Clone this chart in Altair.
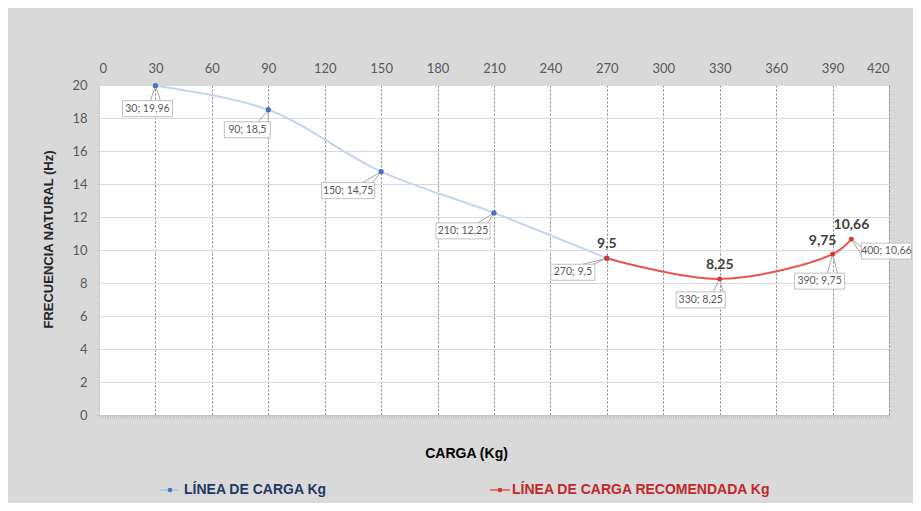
import altair as alt
import pandas as pd

# ---------------- data ----------------
carga_actual = [30, 90, 150, 210, 270]
frec_actual = [19.96, 18.5, 14.75, 12.25, 9.5]
carga_rec = [270, 330, 390, 400]
frec_rec = [9.5, 8.25, 9.75, 10.66]
x_ticks = [0, 30, 60, 90, 120, 150, 180, 210, 240, 270, 300, 330, 360, 390, 420]
y_ticks = [0, 2, 4, 6, 8, 10, 12, 14, 16, 18, 20]

serie_actual = "LÍNEA DE CARGA Kg"
serie_rec = "LÍNEA DE CARGA RECOMENDADA Kg"
x_title = "CARGA (Kg)"
y_title = "FRECUENCIA NATURAL (Hz)"

# ---------------- layout ----------------
W, H = 790, 330
X_MAX, Y_MAX = 420, 20
PXX = W / X_MAX
PXY = H / Y_MAX

# callout boxes: pixel offset of the box centre from its point, box width
callout_dx = [-8, -21, -33, -31, -34, -19, -13, 35]
callout_dy = [23, 20, 19, 18, 14, 21, 27, 12]
callout_w = [50, 46, 53, 54, 44, 49, 50, 50]
BOX_H = 16
# bold value labels of the recommended series: pixel offsets
bold_dx = [0, 0, -10, 0]
bold_dy = [-14, -14, -13, -14]


def fmt(v):
    return str(v).replace(".", ",")


pts_x = carga_actual + carga_rec[1:]
pts_y = frec_actual + frec_rec[1:]

box_rows, wedge_rows = [], []
for x, y, dx, dy, w in zip(pts_x, pts_y, callout_dx, callout_dy, callout_w):
    px, py = x * PXX, (Y_MAX - y) * PXY
    cx, cy = px + dx, py + dy
    left, right = cx - w / 2, cx + w / 2
    top, bottom = cy - BOX_H / 2, cy + BOX_H / 2
    box_rows.append({
        "x1": left / PXX, "x2": right / PXX,
        "y1": Y_MAX - top / PXY, "y2": Y_MAX - bottom / PXY,
        "cx": cx / PXX, "cy": Y_MAX - cy / PXY,
        "label": f"{fmt(x)}; {fmt(y)}",
    })
    if dx > w / 2:
        bases = [(left, cy - 4), (left, cy + 4)]
    else:
        bc = min(max(px, left + 7), right - 7)
        bases = [(bc - 5, top), (bc + 5, top)]
    for bx, by in bases:
        wedge_rows.append({"x": x, "y": y, "x2": bx / PXX, "y2": Y_MAX - by / PXY})

box_df = pd.DataFrame(box_rows)
wedge_df = pd.DataFrame(wedge_rows)

bold_df = pd.DataFrame({
    "x": [c + d / PXX for c, d in zip(carga_rec, bold_dx)],
    "y": [f - d / PXY for f, d in zip(frec_rec, bold_dy)],
    "label": [fmt(f) for f in frec_rec],
})

df_a = pd.DataFrame({"carga": carga_actual, "frec": frec_actual})
df_r = pd.DataFrame({"carga": carga_rec, "frec": frec_rec})

scale_x = alt.Scale(domain=[0, X_MAX], nice=False, zero=False)
scale_y = alt.Scale(domain=[0, Y_MAX], nice=False, zero=False)

LBL_FONT = "Lato"
HEAD_FONT = "Liberation Sans"

axis_top = alt.Axis(
    orient="top", values=x_ticks, title=None, labelFont=LBL_FONT, labelFontSize=13,
    labelColor="#595959", ticks=False, tickSize=0, labelPadding=10, domain=False,
    grid=True, gridColor="#7f7f7f", gridDash=[2, 2], gridWidth=1,
)
axis_left = alt.Axis(
    orient="left", values=y_ticks, title=y_title, titleFont=HEAD_FONT, titleFontSize=13,
    titleFontWeight="bold", titleColor="#262626", titleX=-51, titleY=154, titleAngle=270,
    titleAlign="center", titleBaseline="middle",
    labelFont=LBL_FONT, labelFontSize=13, labelColor="#595959", ticks=False, tickSize=0,
    labelPadding=12, domain=False, grid=True, gridColor="#d9d9d9", gridWidth=1,
)
axis_bottom = alt.Axis(
    orient="bottom", values=list(range(0, 421)), labels=False, ticks=True, tickSize=3,
    tickColor="#c4c4c4", tickWidth=1, domain=True, domainColor="#c4c4c4", grid=False,
    title=x_title, titleFont=HEAD_FONT, titleFontSize=14, titleFontWeight="bold",
    titleColor="#000000", titleX=367, titleY=38, titleBaseline="middle", titleAlign="center",
)
axis_left_minor = alt.Axis(
    orient="left", values=[round(i * 0.4, 1) for i in range(51)], labels=False, ticks=True,
    tickSize=3, tickColor="#d0d0d0", domain=True, domainColor="#d0d0d0", grid=False, title=None,
)

line_a = alt.Chart(df_a).mark_line(
    interpolate="catmull-rom", color="#c5d5ef", strokeWidth=2
).encode(
    x=alt.X("carga:Q", scale=scale_x, axis=axis_top),
    y=alt.Y("frec:Q", scale=scale_y, axis=axis_left),
)

line_r = alt.Chart(df_r).mark_line(
    interpolate="catmull-rom", color="#e8544c", strokeWidth=2
).encode(
    x=alt.X("carga:Q", scale=scale_x, axis=axis_bottom),
    y=alt.Y("frec:Q", scale=scale_y, axis=axis_left_minor),
)

wedges = alt.Chart(wedge_df).mark_rule(color="#a6a6a6", strokeWidth=1).encode(
    x=alt.X("x:Q", scale=scale_x, axis=None),
    y=alt.Y("y:Q", scale=scale_y, axis=None),
    x2="x2:Q", y2="y2:Q",
)

boxes = alt.Chart(box_df).mark_rect(fill="white", stroke="#bfbfbf", strokeWidth=1).encode(
    x=alt.X("x1:Q", scale=scale_x, axis=None), x2="x2:Q",
    y=alt.Y("y1:Q", scale=scale_y, axis=None), y2="y2:Q",
)

box_text = alt.Chart(box_df).mark_text(
    font=LBL_FONT, fontSize=10.5, color="#595959", align="center", baseline="middle"
).encode(
    x=alt.X("cx:Q", scale=scale_x, axis=None),
    y=alt.Y("cy:Q", scale=scale_y, axis=None),
    text="label:N",
)

pts_a = alt.Chart(df_a).mark_point(filled=True, color="#4472c4", size=28, opacity=1).encode(
    x=alt.X("carga:Q", scale=scale_x, axis=None),
    y=alt.Y("frec:Q", scale=scale_y, axis=None),
)
pts_r = alt.Chart(df_r).mark_point(filled=True, color="#e0302c", size=24, opacity=1).encode(
    x=alt.X("carga:Q", scale=scale_x, axis=None),
    y=alt.Y("frec:Q", scale=scale_y, axis=None),
)

bold_text = alt.Chart(bold_df).mark_text(
    font=LBL_FONT, fontSize=14, fontWeight="bold", color="#404040",
    align="center", baseline="middle"
).encode(
    x=alt.X("x:Q", scale=scale_x, axis=None),
    y=alt.Y("y:Q", scale=scale_y, axis=None),
    text="label:N",
)

# ---------------- manual legend (below the plot) ----------------
one = pd.DataFrame({"k": [0]})
LEG_Y = 405
leg_a_line = alt.Chart(one).mark_rule(color="#a9c0e6", strokeWidth=1.5).encode(
    x=alt.value(61), x2=alt.value(79), y=alt.value(LEG_Y))
leg_a_pt = alt.Chart(one).mark_point(filled=True, color="#4472c4", size=22, opacity=1).encode(
    x=alt.value(71), y=alt.value(LEG_Y))
leg_a_txt = alt.Chart(one).mark_text(
    text=serie_actual, font=HEAD_FONT, fontSize=14, fontWeight="bold", color="#1f3864",
    align="left", baseline="middle").encode(x=alt.value(85), y=alt.value(LEG_Y))
leg_r_line = alt.Chart(one).mark_rule(color="#e8544c", strokeWidth=1.5).encode(
    x=alt.value(391), x2=alt.value(411), y=alt.value(LEG_Y))
leg_r_pt = alt.Chart(one).mark_point(filled=True, color="#e0302c", size=22, opacity=1).encode(
    x=alt.value(401), y=alt.value(LEG_Y))
leg_r_txt = alt.Chart(one).mark_text(
    text=serie_rec, font=HEAD_FONT, fontSize=14, fontWeight="bold", color="#c0282a",
    align="left", baseline="middle").encode(x=alt.value(413), y=alt.value(LEG_Y))

chart = alt.layer(
    line_a, line_r, wedges, boxes, box_text, pts_a, pts_r, bold_text,
    leg_a_line, leg_a_pt, leg_a_txt, leg_r_line, leg_r_pt, leg_r_txt,
).resolve_axis(
    x="independent", y="independent"
).properties(
    width=W, height=H,
    autosize=alt.AutoSizeParams(type="none"),
    padding={"left": 91, "top": 77, "right": 24, "bottom": 88},
    background="#d9d9d9",
).configure_view(
    stroke=None, fill="white"
)

chart.save("out.html", embed_options={"renderer": "svg", "actions": False})
